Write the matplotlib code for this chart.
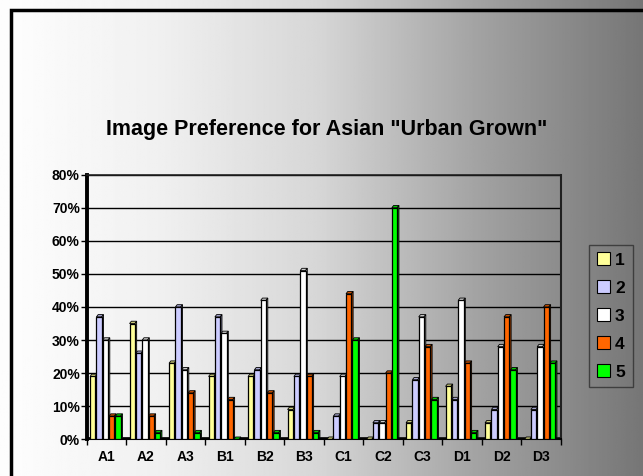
import matplotlib
matplotlib.use("Agg")
import matplotlib.pyplot as plt
import numpy as np
from matplotlib.patches import Patch, Polygon, Rectangle
from matplotlib.ticker import FuncFormatter

plt.rcParams["font.family"] = ["Liberation Sans", "DejaVu Sans"]

# ------------------------------
# Survey data (percent of respondents)
# ------------------------------
categories = ["A1", "A2", "A3", "B1", "B2", "B3", "C1", "C2", "C3", "D1", "D2", "D3"]
series_names = ["1", "2", "3", "4", "5"]
pref_1 = [19, 35, 23, 19, 19, 9, 0, 0, 5, 16, 5, 0]
pref_2 = [37, 26, 40, 37, 21, 19, 7, 5, 18, 12, 9, 9]
pref_3 = [30, 30, 21, 32, 42, 51, 19, 5, 37, 42, 28, 28]
pref_4 = [7, 7, 14, 12, 14, 19, 44, 20, 28, 23, 37, 40]
pref_5 = [7, 2, 2, 0, 2, 2, 30, 70, 12, 2, 21, 23]

series = [pref_1, pref_2, pref_3, pref_4, pref_5]
colors = ["#FFFF99", "#CCCCFF", "#FFFFFF", "#FF6600", "#00FF00"]

W, H = 643, 476
fig = plt.figure(figsize=(W / 100, H / 100), dpi=100)

# horizontal gray gradient behind everything
bg = fig.add_axes([0, 0, 1, 1], zorder=-10)
xs = np.linspace(0, W, 400)
shade = np.interp(xs, [0, 10, 160, 320, 480, 643], [253, 253, 240, 214, 162, 118]) / 255.0
grad = np.tile(shade, (2, 1))
bg.imshow(grad, cmap="gray", vmin=0, vmax=1, aspect="auto", extent=[0, 1, 0, 1])
bg.set_xlim(0, 1)
bg.set_ylim(0, 1)
bg.set_axis_off()
# chart border (runs off the right and bottom edge)
bg.add_patch(Rectangle((10.5 / W, -0.1), 1.2, 1.1 - 9.5 / H, fill=False,
                       edgecolor="black", linewidth=2.5))

ax = fig.add_axes([86.7 / W, (H - 439.3) / H, 474 / W, 264.6 / H])
ax.patch.set_alpha(0)

n = len(categories)
bar_w = 0.135
step = 0.16
start = 0.085
dx, dy = 0.045, 0.7  # depth of the 3D faces


def darker(c, f=0.55):
    rgb = np.array(matplotlib.colors.to_rgb(c))
    return tuple(rgb * f)


# floor edge along the base
ax.add_patch(Rectangle((0, 0), n, dy, facecolor="#222222", edgecolor="none", zorder=2))

for si, (vals, col) in enumerate(zip(series, colors)):
    x0 = np.arange(n) + start + si * step
    ax.bar(x0, vals, width=bar_w, align="edge", color=col, edgecolor="black",
           linewidth=0.9, zorder=4)
    for x, h in zip(x0, vals):
        top = Polygon([(x, h), (x + bar_w, h), (x + bar_w + dx, h + dy), (x + dx, h + dy)],
                      closed=True, facecolor=darker(col, 0.8), edgecolor="black",
                      linewidth=0.6, zorder=3)
        side = Polygon([(x + bar_w, 0), (x + bar_w + dx, dy), (x + bar_w + dx, h + dy),
                        (x + bar_w, h)], closed=True, facecolor=darker(col),
                       edgecolor="black", linewidth=0.6, zorder=3)
        ax.add_patch(top)
        ax.add_patch(side)

ax.set_xlim(0, n)
ax.set_ylim(0, 80)
ax.set_yticks(np.arange(0, 81, 10))
ax.yaxis.set_major_formatter(FuncFormatter(lambda v, p: f"{int(v)}%"))
ax.yaxis.grid(True, color="black", linewidth=1.0)
ax.set_axisbelow(True)

ax.set_xticks(np.arange(n + 1))
ax.set_xticklabels([])
ax.set_xticks(np.arange(n) + 0.5, minor=True)
ax.set_xticklabels(categories, minor=True)
ax.tick_params(axis="x", which="major", length=4, width=1, direction="out")
ax.tick_params(axis="x", which="minor", length=0, pad=8)
ax.tick_params(axis="y", length=4, width=1, pad=1)
for lab in ax.get_xticklabels(minor=True) + ax.get_yticklabels():
    lab.set_fontweight("bold")
    lab.set_fontsize(10)

ax.spines["left"].set_linewidth(2.8)
ax.spines["bottom"].set_linewidth(1.5)
ax.spines["top"].set_linewidth(1.2)
ax.spines["right"].set_linewidth(1.5)
for s in ["top", "right"]:
    ax.spines[s].set_color("#202020")

fig.text(327 / W, 1 - 130 / H, 'Image Preference for Asian "Urban Grown"',
         ha="center", va="center", fontsize=15.5, fontweight="bold")

handles = [Patch(facecolor=c, edgecolor="black", linewidth=0.8) for c in colors]
leg = fig.legend(handles, series_names, loc="center left",
                 bbox_to_anchor=(589 / W, 1 - 316 / H), frameon=True,
                 prop={"weight": "bold", "size": 12.5}, handlelength=0.75,
                 handleheight=0.75, handletextpad=0.3, labelspacing=0.72,
                 borderpad=0.45, borderaxespad=0, fancybox=False)
leg.get_frame().set_facecolor("none")
leg.get_frame().set_edgecolor("#303030")
leg.get_frame().set_linewidth(1.0)

fig.savefig("out.png", dpi=100)
